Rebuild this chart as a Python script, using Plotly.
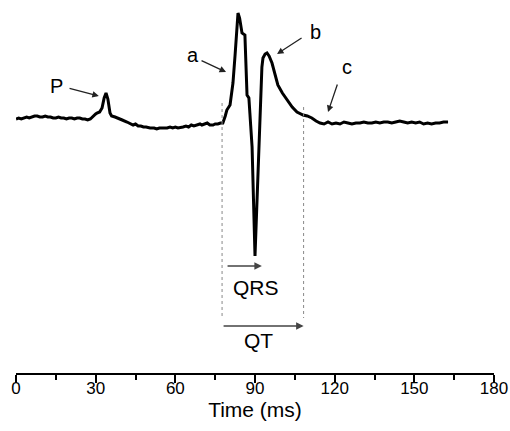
import plotly.graph_objects as go

# ECG trace (time in ms, amplitude in arbitrary units)
time_ms = [0, 1, 2, 3, 4, 5, 6, 7, 8, 9, 10, 11, 12, 13, 14, 15, 16, 17, 18, 19,
           20, 21, 22, 23, 24, 25, 26, 27, 28, 29, 30, 30.5, 31.5, 32.4, 33.2, 33.9,
           34.6, 35.4, 36, 37.3, 38.5, 40, 41.8, 43, 44.1, 45, 46, 47, 48, 49, 50.5,
           52, 53, 54, 55, 56.9, 58, 59, 60, 61, 62.9, 64, 65, 66, 67, 68, 69.3, 70,
           71, 72, 73, 74.2, 75, 76, 77, 77.9,
           78.8, 79.4, 80.6, 81.2, 81.7, 82.5, 83.2, 83.6, 84.2, 85.1, 86.2, 87.0,
           87.7, 88.9, 90.0, 91.3, 92.2, 92.6, 93.0, 93.8, 94.5, 95.3, 96.4, 97.5,
           98.6, 100.3, 102, 104, 105.8, 108.1, 109.7, 111.4, 113, 114.5,
           116, 117.5, 119, 120.5, 122, 123.5, 125, 126.5, 128, 129.5, 131, 132.5,
           134, 135.5, 137, 138.5, 140, 141.5, 143, 144.5, 146, 147.5, 149, 150.5,
           152, 153.5, 155, 156.5, 158, 159.5, 161, 162.7]
signal = [0.02, 0.03, 0.02, 0.03, 0.04, 0.03, 0.04, 0.05, 0.05, 0.04, 0.04, 0.05, 0.04,
          0.04, 0.03, 0.03, 0.04, 0.03, 0.03, 0.02, 0.03, 0.03, 0.02, 0.03, 0.03, 0.02,
          0.02, 0.01, 0.02, 0.05, 0.07, 0.08, 0.09, 0.13, 0.23, 0.28,
          0.22, 0.08, 0.05, 0.04, 0.03, 0.01, -0.01, -0.03, -0.04, -0.03, -0.05, -0.05,
          -0.06, -0.06, -0.07, -0.07, -0.08, -0.07, -0.07, -0.07, -0.06, -0.07, -0.06,
          -0.07, -0.06, -0.05, -0.06, -0.04, -0.05, -0.04, -0.03, -0.04, -0.03, -0.02,
          -0.04, -0.04, -0.03, -0.03, -0.02, -0.02,
          0.05, 0.11, 0.16, 0.26, 0.38, 0.66, 0.88, 1.08, 1.03, 0.88, 0.86, 0.26,
          0.23, -0.26, -1.35, -0.39, 0.21, 0.54, 0.63, 0.67, 0.68, 0.65, 0.58, 0.47,
          0.36, 0.28, 0.21, 0.14, 0.09, 0.06, 0.05, 0.03, 0.00, -0.02,
          -0.03, -0.01, -0.03, -0.02, -0.03, -0.01, -0.02, -0.03, -0.02, -0.02, -0.01,
          -0.02, -0.02, -0.01, -0.02, -0.01, -0.01, -0.02, -0.01, 0.00, -0.01, -0.02,
          -0.01, -0.02, -0.01, -0.03, -0.02, -0.03, -0.02, -0.02, -0.01, -0.01]

# QRS / QT interval boundaries (ms)
qrs_start, qrs_end = 79.1, 92.6
qt_start, qt_end = 77.6, 108.3

FONT = "Arial, Liberation Sans, sans-serif"

fig = go.Figure()
fig.add_trace(go.Scatter(x=time_ms, y=signal, mode="lines",
                         line=dict(color="black", width=3), hoverinfo="skip"))

# dotted guide lines
for xv, y0, y1 in [(qt_start, 0.18, -1.95), (qt_end, 0.14, -1.97)]:
    fig.add_shape(type="line", x0=xv, x1=xv, y0=y0, y1=y1, xref="x", yref="y",
                  line=dict(color="#888", width=1, dash="dot"))

# (label, label x, label y, tail x, tail y, head x, head y)
labels = [
    ("P", 15.4, 0.35, 19.6, 0.33, 31.2, 0.25),
    ("a", 66.6, 0.66, 69.3, 0.61, 79.1, 0.49),
    ("b", 112.6, 0.89, 108.1, 0.84, 98.3, 0.67),
    ("c", 124.6, 0.54, 121.2, 0.38, 117.5, 0.09),
]
for txt, lx, ly, tx, ty, hx, hy in labels:
    fig.add_annotation(x=lx, y=ly, text=txt, showarrow=False,
                       font=dict(family=FONT, size=20, color="black"))
    fig.add_annotation(x=hx, y=hy, ax=tx, ay=ty, axref="x", ayref="y", text="",
                       showarrow=True, arrowhead=2, arrowsize=1, arrowwidth=1.3,
                       arrowcolor="#222")

# interval arrows
fig.add_annotation(x=qrs_end, y=-1.45, ax=qrs_start, ay=-1.45, axref="x", ayref="y",
                   text="", showarrow=True, arrowhead=2, arrowsize=1, arrowwidth=1.5,
                   arrowcolor="#444")
fig.add_annotation(x=90.4, y=-1.66, text="QRS", showarrow=False,
                   font=dict(family=FONT, size=21, color="black"))
fig.add_annotation(x=qt_end, y=-2.05, ax=qt_start, ay=-2.05, axref="x", ayref="y",
                   text="", showarrow=True, arrowhead=2, arrowsize=1, arrowwidth=1.5,
                   arrowcolor="#444")
fig.add_annotation(x=91.5, y=-2.19, text="QT", showarrow=False,
                   font=dict(family=FONT, size=21, color="black"))

fig.update_xaxes(
    range=[0, 180], dtick=30, tick0=0,
    showline=True, linecolor="black", linewidth=2,
    ticks="outside", ticklen=8, tickwidth=2, tickcolor="black",
    minor=dict(dtick=15, ticks="outside", ticklen=5, tickwidth=2, tickcolor="black"),
    showgrid=False, zeroline=False,
    tickfont=dict(family=FONT, size=17, color="black"),
    ticklabelstandoff=-9,
    title=dict(text="Time (ms)", font=dict(family=FONT, size=21, color="black"),
               standoff=0),
)
fig.update_yaxes(range=[-2.52, 1.21], visible=False, showgrid=False, zeroline=False)

fig.update_layout(
    width=510, height=431,
    margin=dict(l=16, r=16, t=0, b=58),
    plot_bgcolor="white", paper_bgcolor="white",
    showlegend=False,
)

# drop the default page margin so the figure fills the window exactly
fig.write_html("out.html", config={"displayModeBar": False},
               post_script="document.body.style.margin = '0';")
